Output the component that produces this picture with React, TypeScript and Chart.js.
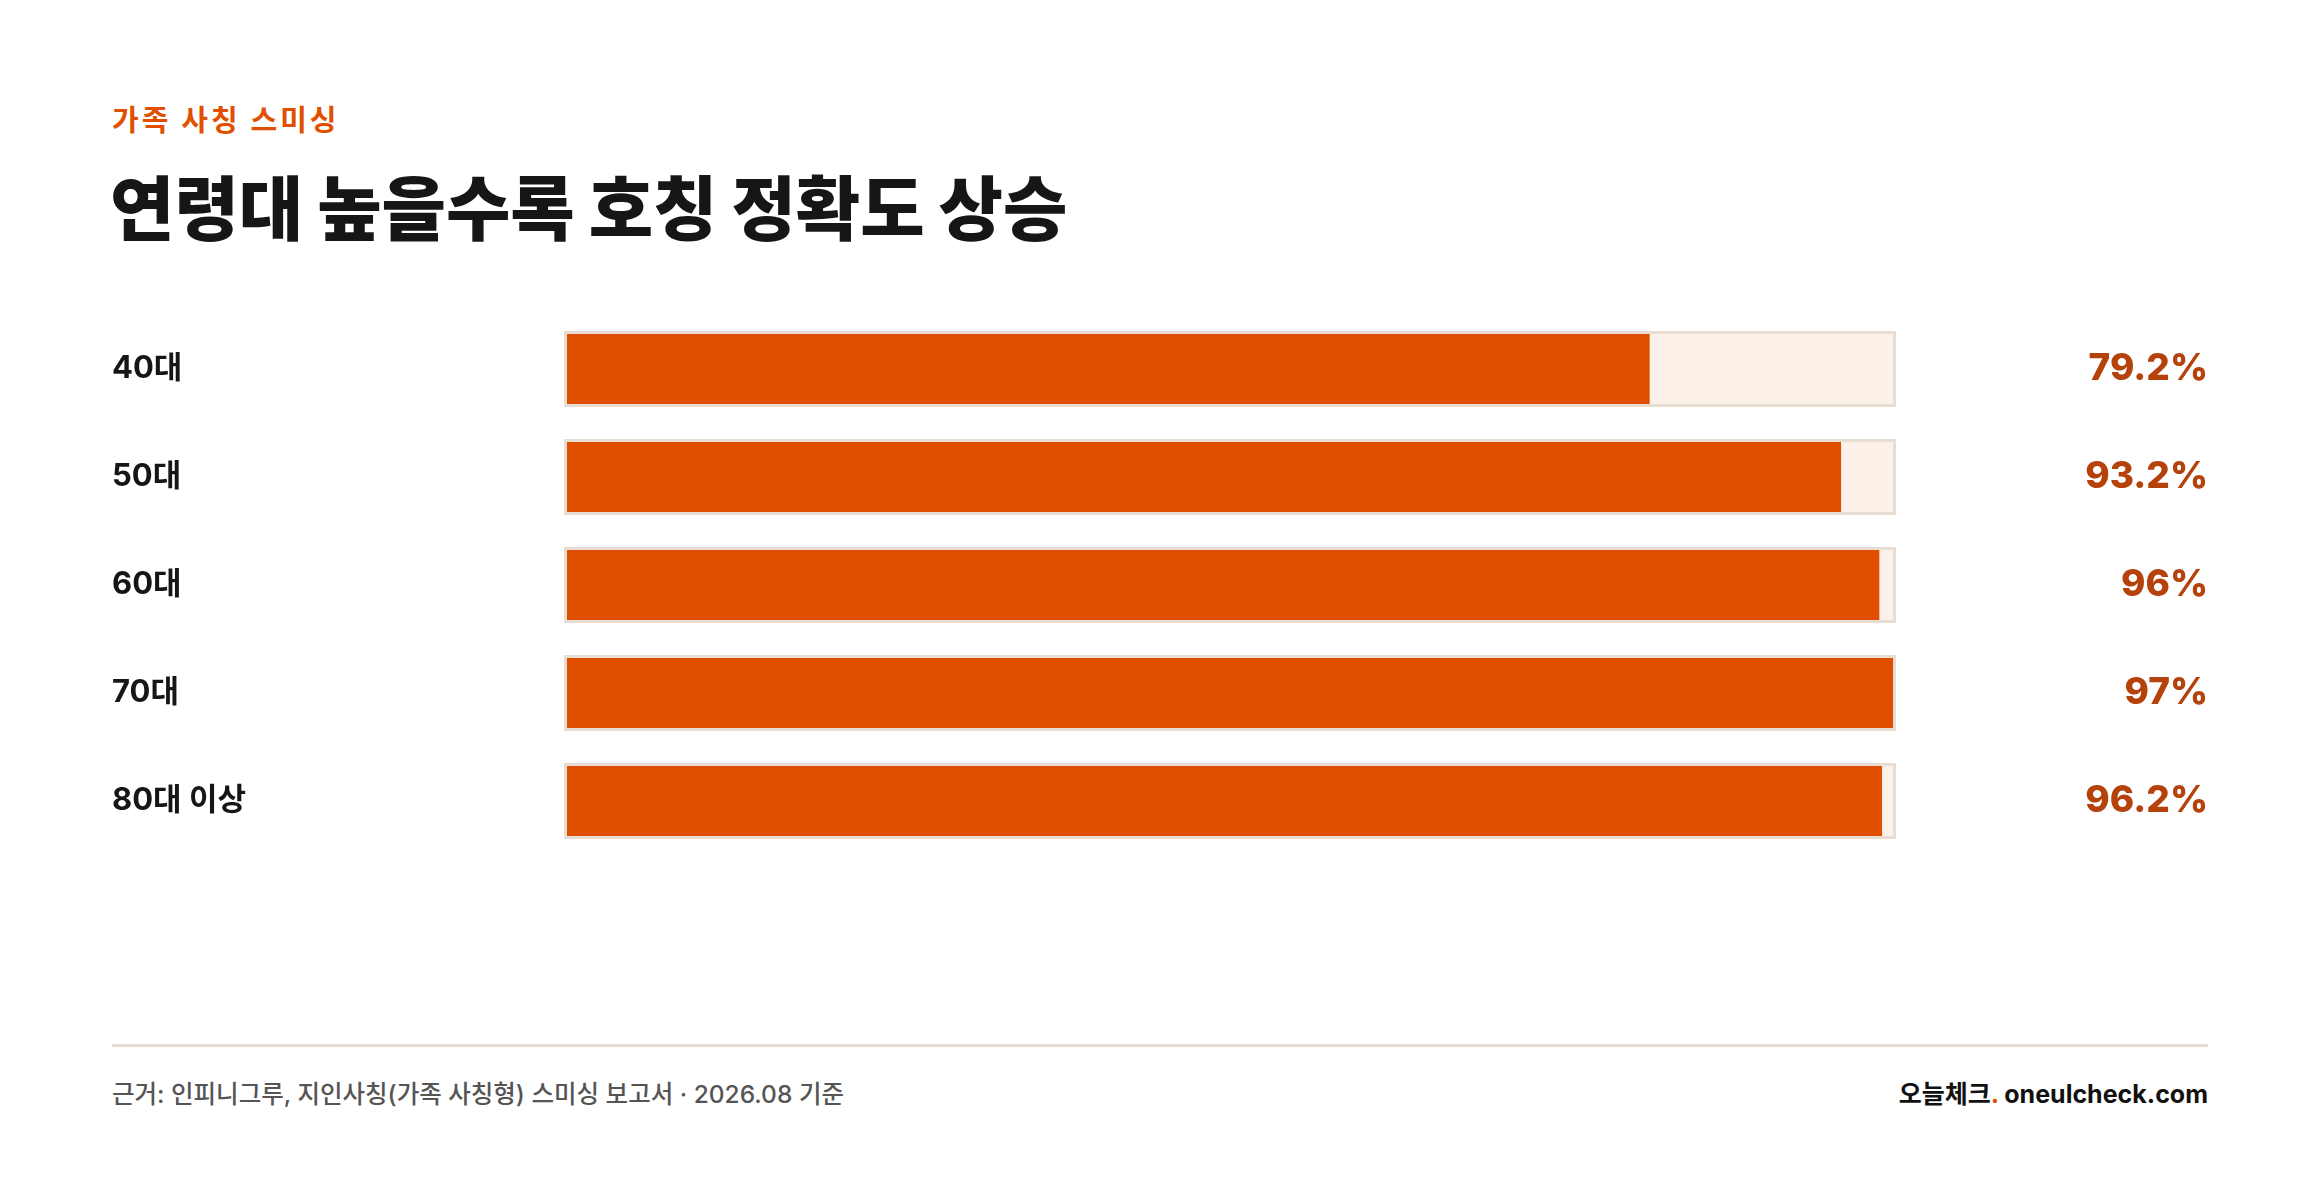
import React, { useEffect, useRef } from "react";
import { Chart, registerables } from "chart.js";

Chart.register(...registerables);

const categories = ["40대", "50대", "60대", "70대", "80대 이상"];
const values = [79.2, 93.2, 96, 97, 96.2];
const valueLabels = ["79.2%", "93.2%", "96%", "97%", "96.2%"];
const eyebrow = "가족 사칭 스미싱";
const title = "연령대 높을수록 호칭 정확도 상승";
const source = "근거: 인피니그루, 지인사칭(가족 사칭형) 스미싱 보고서 · 2026.08 기준";
const brand = "오늘체크";
const site = "oneulcheck.com";

const FONT = "Inter, 'Noto Sans CJK KR', sans-serif";
const ORANGE = "#E04F00";
const VALUE_COLOR = "#B5410B";
const TRACK_FILL = "#FCF1E8";
const TRACK_BORDER = "#E8DDD3";

const W = 2320;
const H = 1190;
const BAR = 70;
const FRAME = 3;

export default function App() {
  const canvasRef = useRef<HTMLCanvasElement | null>(null);

  useEffect(() => {
    const canvas = canvasRef.current;
    if (!canvas) return;
    const maxVal = Math.max(...values);

    const framePlugin = {
      id: "trackFrame",
      beforeDatasetsDraw(chart: any) {
        const ctx = chart.ctx as CanvasRenderingContext2D;
        const xScale = chart.scales.x;
        const yScale = chart.scales.y;
        const x0 = xScale.getPixelForValue(0);
        const x1 = xScale.getPixelForValue(maxVal);
        ctx.save();
        ctx.fillStyle = TRACK_BORDER;
        categories.forEach((_, i) => {
          const py = yScale.getPixelForValue(i);
          ctx.fillRect(x0 - FRAME, py - BAR / 2 - FRAME, x1 - x0 + FRAME * 2, BAR + FRAME * 2);
        });
        ctx.restore();
      },
    };

    const labelPlugin = {
      id: "rowLabels",
      afterDatasetsDraw(chart: any) {
        const ctx = chart.ctx as CanvasRenderingContext2D;
        const yScale = chart.scales.y;
        ctx.save();
        ctx.textBaseline = "middle";
        categories.forEach((c, i) => {
          const py = yScale.getPixelForValue(i);
          ctx.font = `700 31px ${FONT}`;
          ctx.fillStyle = "#161616";
          ctx.textAlign = "left";
          ctx.fillText(c, 112, py);
          ctx.font = `800 37px ${FONT}`;
          ctx.fillStyle = VALUE_COLOR;
          ctx.textAlign = "right";
          ctx.fillText(valueLabels[i], 2208, py);
        });
        ctx.restore();
      },
    };

    const chart = new Chart(canvas, {
      type: "bar",
      data: {
        labels: categories,
        datasets: [
          {
            label: "value",
            data: values,
            backgroundColor: ORANGE,
            borderWidth: 0,
            barThickness: BAR,
            grouped: false,
            inflateAmount: 0,
          } as any,
          {
            label: "track",
            data: values.map(() => maxVal),
            backgroundColor: TRACK_FILL,
            borderWidth: 0,
            barThickness: BAR,
            grouped: false,
            inflateAmount: 0,
          } as any,
        ],
      },
      options: {
        indexAxis: "y",
        animation: false,
        responsive: true,
        maintainAspectRatio: false,
        layout: { padding: { left: 567, right: W - 1893, top: 0, bottom: 0 } },
        plugins: {
          legend: { display: false },
          tooltip: { enabled: false },
        },
        scales: {
          x: { min: 0, max: maxVal, display: false, grid: { display: false } },
          y: { display: false, grid: { display: false }, offset: true },
        },
      } as any,
      plugins: [framePlugin, labelPlugin],
    });
    return () => chart.destroy();
  }, []);

  return (
    <div
      style={{
        position: "absolute",
        left: 0,
        top: 0,
        width: W,
        height: H,
        background: "#ffffff",
        overflow: "hidden",
        fontFamily: FONT,
      }}
    >
      <div
        style={{
          position: "absolute",
          left: 112,
          top: 106,
          fontSize: 29,
          lineHeight: "29px",
          fontWeight: 700,
          letterSpacing: 3,
          color: "#E05000",
          whiteSpace: "nowrap",
        }}
      >
        {eyebrow}
      </div>
      <div
        style={{
          position: "absolute",
          left: 110,
          top: 175,
          fontSize: 70,
          lineHeight: "70px",
          fontWeight: 900,
          letterSpacing: 0,
          color: "#161616",
          whiteSpace: "nowrap",
        }}
      >
        {title}
      </div>
      <div style={{ position: "absolute", left: 0, top: 315, width: W, height: 540 }}>
        <canvas ref={canvasRef} />
      </div>
      <div
        style={{
          position: "absolute",
          left: 112,
          top: 1044,
          width: 2208 - 112,
          height: 3,
          background: TRACK_BORDER,
        }}
      />
      <div
        style={{
          position: "absolute",
          left: 112,
          top: 1082,
          fontSize: 24.5,
          lineHeight: "25px",
          fontWeight: 500,
          color: "#555555",
          whiteSpace: "nowrap",
        }}
      >
        {source}
      </div>
      <div
        style={{
          position: "absolute",
          right: W - 2208,
          top: 1082,
          fontSize: 25,
          lineHeight: "25px",
          fontWeight: 700,
          color: "#111111",
          whiteSpace: "nowrap",
        }}
      >
        {brand}
        <span style={{ color: "#E05000" }}>.</span> {site}
      </div>
    </div>
  );
}
